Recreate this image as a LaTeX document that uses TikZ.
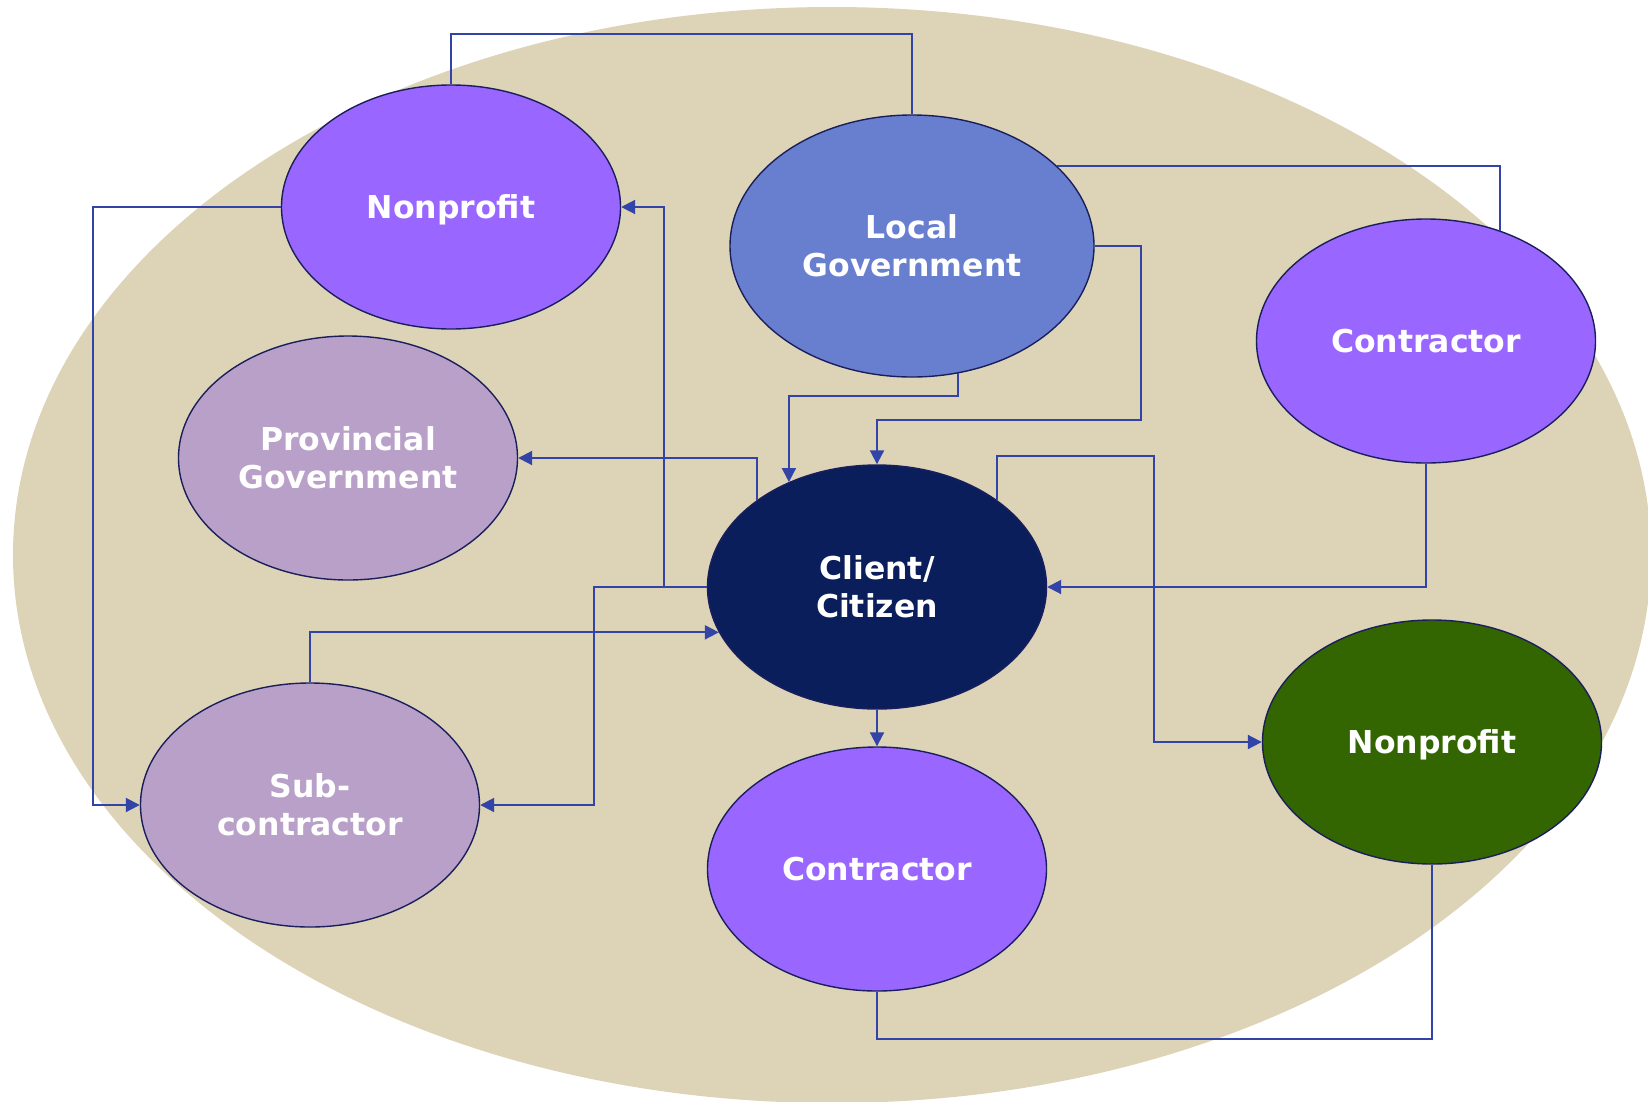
\documentclass[tikz,border=0pt]{standalone}
\usepackage{fontspec}
\setmainfont{DejaVu Sans}
\usetikzlibrary{arrows.meta,shapes.geometric}

\definecolor{sand}{HTML}{DDD3B7}
\definecolor{violetfill}{HTML}{9966FF}
\definecolor{localblue}{HTML}{687FD0}
\definecolor{lilac}{HTML}{B8A0C8}
\definecolor{navyfill}{HTML}{0A1E5C}
\definecolor{leaf}{HTML}{336600}
\definecolor{rimblue}{HTML}{1A1F5C}
\definecolor{linkblue}{HTML}{3344A8}

\begin{document}
\begin{tikzpicture}[x=1pt,y=-1pt,
  actor/.style={ellipse, draw=rimblue, line width=1.4pt,
    minimum width=339pt, minimum height=244pt, inner sep=0pt,
    align=center, text=white,
    font=\bfseries\fontsize{31.5}{38}\selectfont},
  oneline/.style={text depth=0pt},
  link/.style={draw=linkblue, line width=2pt},
  flow/.style={link, -{Triangle[length=14pt,width=14pt]}}]

\useasboundingbox (0,0) rectangle (1648,1101);

% sand-coloured backdrop, cut by the page edges
\begin{scope}
  \clip (0,0) rectangle (1648,1101);
  \fill[sand] (832,555) ellipse [x radius=819pt, y radius=548pt];
\end{scope}

% actors
\node[actor, oneline, fill=violetfill] (np1) at (451,207) {Nonprofit};
\node[actor, fill=localblue, minimum width=364pt, minimum height=262pt]
  (lg) at (912,246) {Local\\Government};
\node[actor, oneline, fill=violetfill] (ctr1) at (1426,341) {Contractor};
\node[actor, fill=lilac] (pg) at (348,458) {Provincial\\Government};
\node[actor, fill=navyfill] (cc) at (877,587) {Client/\\Citizen};
\node[actor, fill=lilac] (sc) at (310,805) {Sub-\\contractor};
\node[actor, oneline, fill=violetfill] (ctr2) at (877,869) {Contractor};
\node[actor, oneline, fill=leaf] (np2) at (1432,742) {Nonprofit};

% routing rails
\coordinate (topRail) at (0,34);
\coordinate (lgDrop) at (0,396);
\coordinate (lgRight) at (1141,420);
\coordinate (midRail) at (664,0);
\coordinate (subRail) at (594,0);
\coordinate (leftRail) at (93,0);
\coordinate (rightRail) at (1154,456);
\coordinate (bottomRail) at (0,1039);

% plain links
\draw[link] (np1.north) |- (topRail -| lg.north) -- (lg.north);
\draw[link] (lg.29) -| (ctr1.56);
\draw[link] (ctr2.south) |- (bottomRail -| np2.south) -- (np2.south);

% directed flows
\draw[flow] (lg.-70) |- (lgDrop -| cc.130) -- (cc.130);
\draw[flow] (lg.east) -| (lgRight) -| (cc.north);
\draw[flow] (cc.west) -- (cc.west -| midRail) |- (np1.east);
\draw[flow] (cc.144) |- (pg.east);
\draw[flow] (cc.west) -- (cc.west -| subRail) |- (sc.east);
\draw[flow] (sc.north) |- (cc.196);
\draw[flow] (np1.west) -- (np1.west -| leftRail) |- (sc.west);
\draw[flow] (ctr1.south) |- (cc.east);
\draw[flow] (cc.36) |- (rightRail) |- (np2.west);
\draw[flow] (cc.south) -- (ctr2.north);

\end{tikzpicture}
\end{document}
